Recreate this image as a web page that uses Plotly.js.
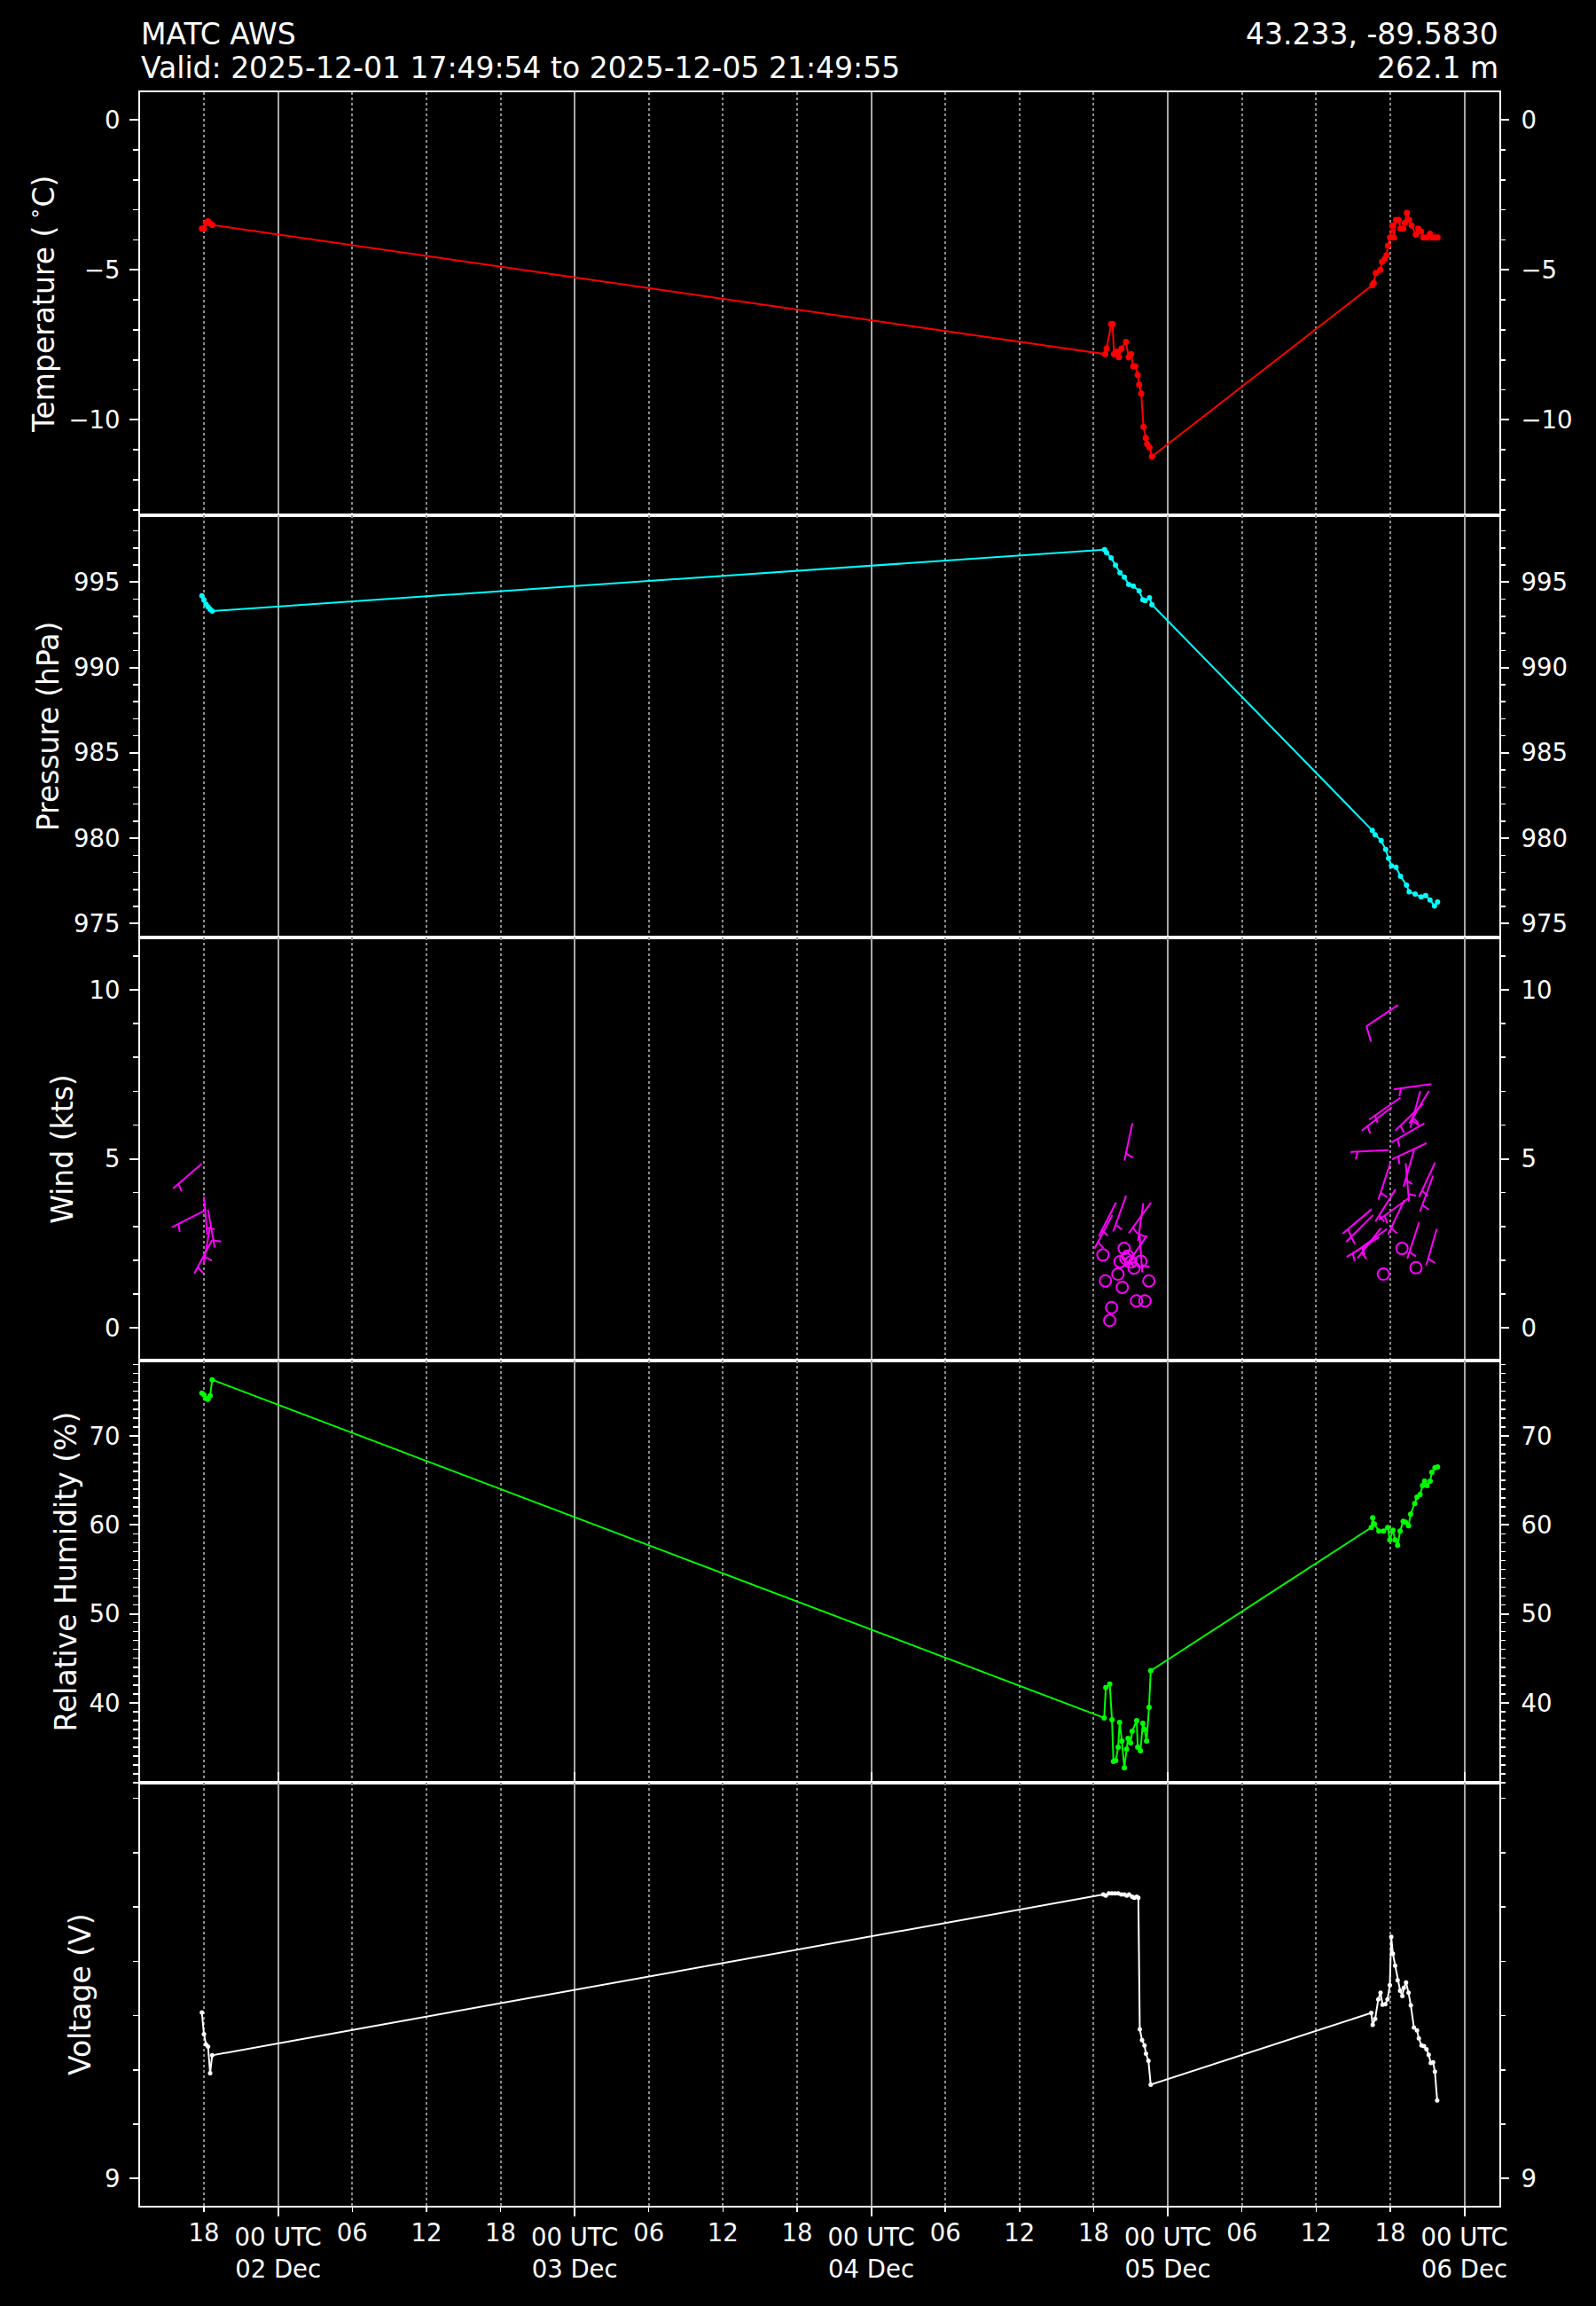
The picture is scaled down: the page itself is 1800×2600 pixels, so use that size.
<!DOCTYPE html>
<html><head><meta charset="utf-8">
<script src="https://cdn.plot.ly/plotly-3.0.1.min.js"></script>
<style>html,body{margin:0;padding:0;background:#000;}</style>
</head><body><div id="chart" style="width:1800px;height:2600px;"></div>
<script>
// ---------------- DATA ----------------
const xRange = ["2025-12-01 12:49:54", "2025-12-06 02:49:55"];
const xMajorTicks = ["2025-12-02 00:00", "2025-12-03 00:00", "2025-12-04 00:00", "2025-12-05 00:00", "2025-12-06 00:00"];
const xMajorLabels = ["00 UTC<br>02 Dec", "00 UTC<br>03 Dec", "00 UTC<br>04 Dec", "00 UTC<br>05 Dec", "00 UTC<br>06 Dec"];
const xMinorTicks = ["2025-12-01 18:00", "2025-12-02 06:00", "2025-12-02 12:00", "2025-12-02 18:00",
  "2025-12-03 06:00", "2025-12-03 12:00", "2025-12-03 18:00", "2025-12-04 06:00", "2025-12-04 12:00",
  "2025-12-04 18:00", "2025-12-05 06:00", "2025-12-05 12:00", "2025-12-05 18:00"];
const xMinorLabels = ["18", "06", "12", "18", "06", "12", "18", "06", "12", "18", "06", "12", "18"];

const tempTime = ["2025-12-01 17:49:54","2025-12-01 17:59:54","2025-12-01 18:09:54","2025-12-01 18:19:54","2025-12-01 18:29:54","2025-12-01 18:39:54",
  "2025-12-04 18:56","2025-12-04 19:03","2025-12-04 19:25","2025-12-04 19:32","2025-12-04 19:39","2025-12-04 19:53","2025-12-04 20:03","2025-12-04 20:15","2025-12-04 20:37","2025-12-04 20:50","2025-12-04 21:02","2025-12-04 21:12","2025-12-04 21:22","2025-12-04 21:34","2025-12-04 21:41","2025-12-04 21:51","2025-12-04 22:02","2025-12-04 22:13","2025-12-04 22:20","2025-12-04 22:31","2025-12-04 22:43",
  "2025-12-05 16:33","2025-12-05 16:40","2025-12-05 16:50","2025-12-05 17:12","2025-12-05 17:20","2025-12-05 17:32","2025-12-05 17:42","2025-12-05 17:49","2025-12-05 17:59","2025-12-05 18:10","2025-12-05 18:18","2025-12-05 18:28","2025-12-05 18:41","2025-12-05 18:50","2025-12-05 19:04","2025-12-05 19:11","2025-12-05 19:21","2025-12-05 19:32","2025-12-05 19:44","2025-12-05 20:04","2025-12-05 20:16","2025-12-05 20:30","2025-12-05 20:41","2025-12-05 20:59","2025-12-05 21:13","2025-12-05 21:23","2025-12-05 21:38","2025-12-05 21:49:55"];
const tempVal = [-3.62,-3.62,-3.43,-3.38,-3.45,-3.50,
  -7.81,-7.62,-6.81,-6.81,-7.81,-7.72,-7.91,-7.62,-7.40,-7.91,-7.81,-8.21,-8.21,-8.50,-8.83,-9.12,-10.23,-10.60,-10.80,-10.92,-11.22,
  -5.51,-5.43,-5.10,-5.00,-4.73,-4.64,-4.51,-4.19,-3.92,-3.52,-3.92,-3.33,-3.33,-3.62,-3.62,-3.43,-3.10,-3.33,-3.52,-3.82,-3.62,-3.72,-3.92,-3.92,-3.79,-3.92,-3.92,-3.92];

const presTime = ["2025-12-01 17:49:54","2025-12-01 17:59:54","2025-12-01 18:09:54","2025-12-01 18:19:54","2025-12-01 18:29:54","2025-12-01 18:39:54",
  "2025-12-04 18:53","2025-12-04 19:03","2025-12-04 19:25","2025-12-04 19:46","2025-12-04 20:08","2025-12-04 20:29","2025-12-04 20:50","2025-12-04 21:12","2025-12-04 21:41","2025-12-04 21:59","2025-12-04 22:10","2025-12-04 22:31","2025-12-04 22:43",
  "2025-12-05 16:33","2025-12-05 16:47","2025-12-05 17:16","2025-12-05 17:38","2025-12-05 17:52","2025-12-05 18:06","2025-12-05 18:28","2025-12-05 18:50","2025-12-05 19:19","2025-12-05 19:32","2025-12-05 20:01","2025-12-05 20:30","2025-12-05 20:52","2025-12-05 21:13","2025-12-05 21:35","2025-12-05 21:49:55"];
const presVal = [994.20,993.95,993.70,993.55,993.40,993.30,
  996.90,996.72,996.42,995.99,995.55,995.29,994.86,994.77,994.48,993.96,993.91,994.08,993.68,
  980.46,980.20,979.86,979.34,978.82,978.38,978.30,977.78,977.26,976.86,976.74,976.56,976.65,976.39,976.04,976.27];

const rhTime = ["2025-12-01 17:49:54","2025-12-01 17:59:54","2025-12-01 18:09:54","2025-12-01 18:19:54","2025-12-01 18:29:54","2025-12-01 18:39:54",
  "2025-12-04 18:51","2025-12-04 18:59","2025-12-04 19:18","2025-12-04 19:29","2025-12-04 19:36","2025-12-04 19:47","2025-12-04 19:59","2025-12-04 20:06","2025-12-04 20:17","2025-12-04 20:29","2025-12-04 20:40","2025-12-04 20:47","2025-12-04 20:59","2025-12-04 21:07","2025-12-04 21:29","2025-12-04 21:34","2025-12-04 21:47","2025-12-04 21:59","2025-12-04 22:07","2025-12-04 22:17","2025-12-04 22:29","2025-12-04 22:37",
  "2025-12-05 16:28","2025-12-05 16:35","2025-12-05 16:43","2025-12-05 17:05","2025-12-05 17:28","2025-12-05 17:48","2025-12-05 17:58","2025-12-05 18:13","2025-12-05 18:24","2025-12-05 18:36","2025-12-05 18:48","2025-12-05 19:03","2025-12-05 19:14","2025-12-05 19:29","2025-12-05 19:39","2025-12-05 19:59","2025-12-05 20:10","2025-12-05 20:25","2025-12-05 20:37","2025-12-05 20:47","2025-12-05 20:59","2025-12-05 21:14","2025-12-05 21:22","2025-12-05 21:37","2025-12-05 21:49:55"];
const rhVal = [74.8,74.6,74.2,74.1,74.5,76.3,
  38.3,41.7,42.1,38.1,33.4,33.5,35.0,37.8,35.7,32.7,34.8,36.0,35.5,36.8,38.0,35.0,34.6,37.7,37.0,35.7,39.5,43.6,
  59.7,60.8,60.1,59.3,59.3,59.7,58.3,59.4,58.3,57.7,59.3,60.4,60.3,59.9,61.2,62.4,63.1,63.4,64.4,64.9,64.4,64.9,65.9,66.4,66.5];

const voltTime = ["2025-12-01 17:49:54","2025-12-01 17:59:54","2025-12-01 18:09:54","2025-12-01 18:19:54","2025-12-01 18:29:54","2025-12-01 18:39:54",
  "2025-12-04 18:47","2025-12-04 18:59","2025-12-04 19:14","2025-12-04 19:29","2025-12-04 19:44","2025-12-04 19:59","2025-12-04 20:14","2025-12-04 20:29","2025-12-04 20:41","2025-12-04 20:52","2025-12-04 21:07","2025-12-04 21:17","2025-12-04 21:29","2025-12-04 21:37","2025-12-04 21:44","2025-12-04 21:55","2025-12-04 22:07","2025-12-04 22:14","2025-12-04 22:26","2025-12-04 22:37",
  "2025-12-05 16:28","2025-12-05 16:35","2025-12-05 16:47","2025-12-05 17:02","2025-12-05 17:13","2025-12-05 17:23","2025-12-05 17:36","2025-12-05 17:47","2025-12-05 17:58","2025-12-05 18:05","2025-12-05 18:13","2025-12-05 18:24","2025-12-05 18:36","2025-12-05 18:48","2025-12-05 18:59","2025-12-05 19:06","2025-12-05 19:17","2025-12-05 19:29","2025-12-05 19:40","2025-12-05 19:55","2025-12-05 20:10","2025-12-05 20:19","2025-12-05 20:32","2025-12-05 20:44","2025-12-05 20:56","2025-12-05 21:07","2025-12-05 21:17","2025-12-05 21:28","2025-12-05 21:37","2025-12-05 21:48"];
const voltVal = [9.306,9.266,9.247,9.243,9.194,9.227,
  9.523,9.521,9.525,9.525,9.525,9.525,9.523,9.523,9.521,9.523,9.519,9.517,9.519,9.517,9.275,9.255,9.245,9.230,9.217,9.173,
  9.305,9.283,9.294,9.330,9.342,9.320,9.321,9.330,9.356,9.445,9.414,9.392,9.365,9.346,9.336,9.351,9.361,9.342,9.319,9.278,9.273,9.258,9.245,9.244,9.238,9.228,9.213,9.214,9.197,9.144];

// wind: speed (kts, also the y position) and direction the wind blows from (deg)
const windTime = ["2025-12-01 17:49:54","2025-12-01 17:59:54","2025-12-01 18:09:54","2025-12-01 18:19:54","2025-12-01 18:29:54","2025-12-01 18:39:54",
  "2025-12-04 18:45","2025-12-04 18:57","2025-12-04 19:18","2025-12-04 19:27","2025-12-04 19:31","2025-12-04 19:49","2025-12-04 19:58","2025-12-04 20:08","2025-12-04 20:19","2025-12-04 20:28","2025-12-04 20:36","2025-12-04 20:38","2025-12-04 20:46","2025-12-04 21:00","2025-12-04 21:08","2025-12-04 21:16","2025-12-04 21:28","2025-12-04 21:43","2025-12-04 21:49","2025-12-04 22:01","2025-12-04 22:09","2025-12-04 22:19","2025-12-04 22:28","2025-12-04 22:39",
  "2025-12-05 16:30","2025-12-05 16:37","2025-12-05 17:07","2025-12-05 17:15","2025-12-05 17:27","2025-12-05 17:45","2025-12-05 17:52","2025-12-05 18:00","2025-12-05 18:08","2025-12-05 18:26","2025-12-05 18:38","2025-12-05 18:50","2025-12-05 18:57","2025-12-05 19:08","2025-12-05 19:15","2025-12-05 19:35","2025-12-05 19:56","2025-12-05 20:05","2025-12-05 20:20","2025-12-05 20:26","2025-12-05 20:38","2025-12-05 20:46","2025-12-05 20:56","2025-12-05 21:08","2025-12-05 21:20","2025-12-05 21:28","2025-12-05 21:38","2025-12-05 21:46"];
const windSpd = [4.86,3.88,3.49,3.49,3.00,2.60,
  2.16,1.39,0.22,0.60,3.34,3.71,1.59,1.96,1.20,2.35,2.05,3.91,2.12,1.95,6.05,1.77,0.80,2.77,1.97,3.69,0.80,2.73,1.39,3.71,
  3.51,3.34,2.68,2.95,1.59,2.93,5.26,4.87,6.53,4.10,9.55,6.81,2.35,3.78,4.87,3.86,5.26,1.78,3.12,7.01,6.62,6.05,5.46,7.01,7.21,4.50,4.89,2.93];
const windDir = [229,175,243,170,190,208,
  0,0,0,0,208,207,0,0,0,0,0,200,0,0,192,0,0,176,0,188,0,215,0,216,
  230,225,239,218,0,234,267,198,232,212,236,235,0,205,175,234,196,0,198,195,226,240,245,211,262,200,205,196];

// ---------------- LAYOUT GEOMETRY ----------------
const W = 1800, H = 2600;
const M = {l: 158, r: 109, t: 104, b: 113};
const plotW = W - M.l - M.r, plotH = H - M.t - M.b;
const ranges = {
  temp: [-13.17, 0.925], pres: [974.18, 998.93], wind: [-0.96, 11.54], rh: [30.98, 78.48], volt: [8.950, 9.728]
};
const FONT = "DejaVu Sans, Liberation Sans, sans-serif";
const TICKF = 27.5, TITLEF = 33;

function toMs(s) {
  const parts = s.split(' ');
  let t = parts[1] || '00:00:00';
  if (t.length === 5) t += ':00';
  return Date.parse(parts[0] + 'T' + t + 'Z');
}

// ---------------- WIND BARBS (matplotlib-like geometry in pixels) ----------------
const x0 = toMs(xRange[0]), x1 = toMs(xRange[1]);
const pxPerMs = plotW / (x1 - x0);
const panelH = plotH / 5;
const pxPerKt = panelH / (ranges.wind[1] - ranges.wind[0]);
const BL = 43, BH = 0.4 * BL, BW = 0.25 * BL, BSP = 0.125 * BL;
const barbX = [], barbY = [], calmX = [], calmY = [];
windTime.forEach((ts, i) => {
  const spd = windSpd[i];
  const rounded = 5 * Math.round(spd / 5);
  if (rounded === 0) { calmX.push(ts); calmY.push(spd); return; }
  const t = toMs(ts);
  const d = windDir[i] * Math.PI / 180;
  const sx = Math.sin(d), sy = Math.cos(d);   // staff direction (toward where wind comes from)
  const qx = -sy, qy = sx;                    // barb side
  const pt = (a, b) => [t + (a * qx + b * sx) / pxPerMs, spd + (a * qy + b * sy) / pxPerKt];
  const seg = (p, q) => { barbX.push(p[0], q[0], null); barbY.push(p[1], q[1], null); };
  seg(pt(0, 0), pt(0, BL));
  const nfull = Math.floor(rounded / 10);
  const half = (rounded % 10) >= 5;
  let off = BL;
  for (let k = 0; k < nfull; k++) { seg(pt(0, off), pt(BH, off + BW / 2)); off -= BSP; }
  if (half) {
    if (off === BL) off -= 1.5 * BSP;
    seg(pt(0, off), pt(BH / 2, off + BW / 4));
  }
});

// ---------------- TRACES ----------------
const lineTrace = (x, y, ya, color, msize) => ({
  x: x, y: y, xaxis: 'x', yaxis: ya, type: 'scatter', mode: 'lines+markers',
  line: {color: color, width: 2}, marker: {color: color, size: msize},
  hoverinfo: 'skip', showlegend: false, cliponaxis: true
});
const ghost = (x, y, xa, ya) => ({
  x: x, y: y, xaxis: xa, yaxis: ya, type: 'scatter', mode: 'markers',
  marker: {opacity: 0, size: 1}, hoverinfo: 'skip', showlegend: false
});

const traces = [
  lineTrace(tempTime, tempVal, 'y', '#ff0000', 7),
  lineTrace(presTime, presVal, 'y2', '#00ffff', 6),
  {x: barbX, y: barbY, xaxis: 'x', yaxis: 'y3', type: 'scatter', mode: 'lines',
   line: {color: '#ff00ff', width: 2}, hoverinfo: 'skip', showlegend: false, connectgaps: false},
  {x: calmX, y: calmY, xaxis: 'x', yaxis: 'y3', type: 'scatter', mode: 'markers',
   marker: {symbol: 'circle-open', color: '#ff00ff', size: 13, line: {width: 2, color: '#ff00ff'}},
   hoverinfo: 'skip', showlegend: false},
  lineTrace(rhTime, rhVal, 'y4', '#00ff00', 6),
  lineTrace(voltTime, voltVal, 'y5', '#ffffff', 5),
  ghost(tempTime, tempVal, 'x', 'y6'),
  ghost(presTime, presVal, 'x', 'y7'),
  ghost(calmX, calmY, 'x', 'y8'),
  ghost(rhTime, rhVal, 'x', 'y9'),
  ghost(voltTime, voltVal, 'x', 'y10'),
  ghost(voltTime, voltVal, 'x2', 'y5')
];

// ---------------- AXES ----------------
const dom = i => [1 - (i + 1) / 5, 1 - i / 5];
function yAxis(i, range, dtick, minor, title, standoff) {
  return {
    domain: dom(i), anchor: 'x', range: range, autorange: false,
    tickmode: 'linear', tick0: 0, dtick: dtick,
    ticks: 'outside', ticklen: 10, tickwidth: 2, tickcolor: '#fff',
    minor: {dtick: minor, tick0: 0, ticks: 'outside', ticklen: 6, tickwidth: 1.5, tickcolor: '#fff', showgrid: false},
    showline: true, linecolor: '#fff', linewidth: 2, mirror: true,
    showgrid: false, zeroline: false,
    tickfont: {size: TICKF, color: '#fff', family: FONT},
    ticklabelstandoff: 5,
    title: {text: title, font: {size: TITLEF, color: '#fff', family: FONT}, standoff: standoff}
  };
}
function yRight(i, base, range, dtick, minor) {
  return {
    overlaying: base, side: 'right', anchor: 'x', range: range, autorange: false,
    tickmode: 'linear', tick0: 0, dtick: dtick,
    ticks: 'outside', ticklen: 10, tickwidth: 2, tickcolor: '#fff',
    minor: {dtick: minor, tick0: 0, ticks: 'outside', ticklen: 6, tickwidth: 1.5, tickcolor: '#fff', showgrid: false},
    showline: false, showgrid: false, zeroline: false,
    tickfont: {size: TICKF, color: '#fff', family: FONT},
    ticklabelstandoff: 8
  };
}

const layout = {
  width: W, height: H, margin: M,
  paper_bgcolor: '#000', plot_bgcolor: '#000',
  font: {family: FONT, color: '#fff', size: TICKF},
  showlegend: false,
  xaxis: {
    type: 'date', range: xRange, autorange: false, anchor: 'y5',
    tickmode: 'array', tickvals: xMajorTicks, ticktext: xMajorLabels,
    ticks: 'outside', ticklen: 10, tickwidth: 2, tickcolor: '#fff',
    showgrid: true, gridcolor: '#a8a8a8', gridwidth: 2,
    minor: {tickmode: 'array', tickvals: xMinorTicks, showgrid: true, gridcolor: '#8c8c8c', gridwidth: 2, griddash: 'dot', ticks: ''},
    showline: true, linecolor: '#fff', linewidth: 2, mirror: 'all',
    zeroline: false,
    tickfont: {size: TICKF, color: '#fff', family: FONT}
  },
  xaxis2: {
    type: 'date', range: xRange, autorange: false, overlaying: 'x', anchor: 'y5', side: 'bottom',
    tickmode: 'array', tickvals: xMinorTicks, ticktext: xMinorLabels,
    ticks: 'outside', ticklen: 6, tickwidth: 1.5, tickcolor: '#fff',
    showgrid: false, showline: false, zeroline: false,
    tickfont: {size: TICKF, color: '#fff', family: FONT}
  },
  yaxis: yAxis(0, ranges.temp, 5, 1, 'Temperature (\u2009<sup>\u2218</sup>C)', 6),
  yaxis2: yAxis(1, ranges.pres, 5, 1, 'Pressure (hPa)', 6),
  yaxis3: yAxis(2, ranges.wind, 5, 1, 'Wind (kts)', 8),
  yaxis4: yAxis(3, ranges.rh, 10, 1, 'Relative Humidity (%)', 4),
  yaxis5: yAxis(4, ranges.volt, 1, 0.1, 'Voltage (V)', 5),
  yaxis6: yRight(0, 'y', ranges.temp, 5, 1),
  yaxis7: yRight(1, 'y2', ranges.pres, 5, 1),
  yaxis8: yRight(2, 'y3', ranges.wind, 5, 1),
  yaxis9: yRight(3, 'y4', ranges.rh, 10, 1),
  yaxis10: yRight(4, 'y5', ranges.volt, 1, 0.1),
  annotations: [
    {text: 'MATC AWS', xref: 'paper', yref: 'paper', x: 0, y: (H - M.b - 38) / plotH, xanchor: 'left', yanchor: 'middle', showarrow: false, font: {size: TITLEF, color: '#fff', family: FONT}, borderpad: 0},
    {text: 'Valid: 2025-12-01 17:49:54 to 2025-12-05 21:49:55', xref: 'paper', yref: 'paper', x: 0, y: (H - M.b - 77) / plotH, xanchor: 'left', yanchor: 'middle', showarrow: false, font: {size: TITLEF, color: '#fff', family: FONT}, borderpad: 0},
    {text: '43.233, -89.5830', xref: 'paper', yref: 'paper', x: 1, y: (H - M.b - 38) / plotH, xanchor: 'right', yanchor: 'middle', showarrow: false, font: {size: TITLEF, color: '#fff', family: FONT}, borderpad: 0},
    {text: '262.1 m', xref: 'paper', yref: 'paper', x: 1, y: (H - M.b - 77) / plotH, xanchor: 'right', yanchor: 'middle', showarrow: false, font: {size: TITLEF, color: '#fff', family: FONT}, borderpad: 0}
  ]
};

Plotly.newPlot('chart', traces, layout, {staticPlot: true, displayModeBar: false});
</script></body></html>
